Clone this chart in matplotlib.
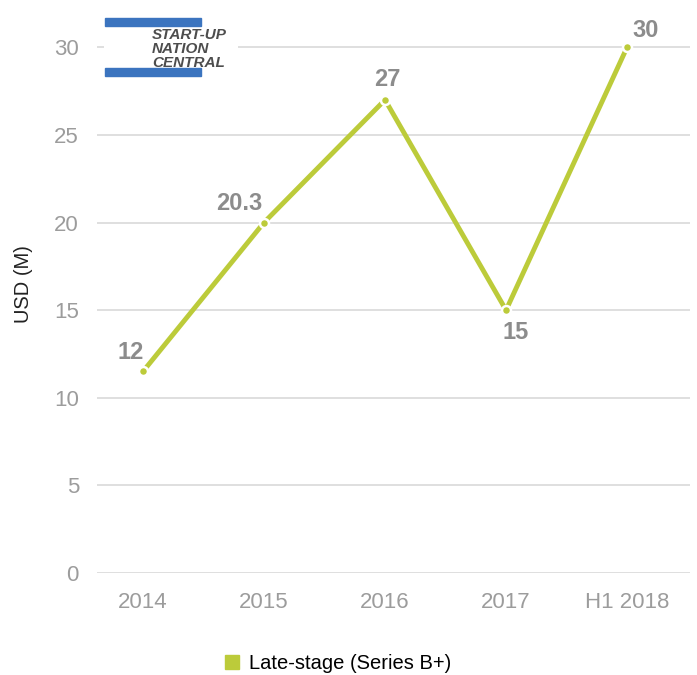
import numpy as np
import matplotlib.pyplot as plt

# Data
years = ['2014', '2015', '2016', '2017', 'H1 2018']
values = [11.5, 20, 27, 15, 30]
labels = ['12', '20.3', '27', '15', '30']
label_offsets = [(-9, 14), (-18, 14), (2, 15), (7, -16), (13, 12)]

plt.rcParams['font.family'] = ['Liberation Sans', 'DejaVu Sans']

green = '#bccb3a'
grey = '#9c9c9c'

fig = plt.figure(figsize=(6.97, 6.75), dpi=100)
ax = fig.add_axes([97 / 697, 102 / 675, 593 / 697, 545 / 675])

x = np.arange(len(years))
ax.plot(x, values, color=green, lw=3.5, solid_capstyle='round', zorder=3)
ax.scatter(x, values, s=42, color=green, edgecolor='white', linewidth=1.8, zorder=4)

for xi, v, lab, off in zip(x, values, labels, label_offsets):
    ax.annotate(lab, (xi, v), xytext=off, textcoords='offset points',
                ha='center', va='center', fontsize=17, fontweight='bold', color='#8c8c8c')

ax.set_xlim(-0.38, 4.52)
ax.set_ylim(0, 31.1)
ax.set_yticks(range(0, 31, 5))
ax.set_xticks(x)
ax.set_xticklabels(years)
ax.yaxis.grid(True, color='#d9d9d9', lw=1.2)
ax.set_axisbelow(True)
for s in ax.spines.values():
    s.set_visible(False)
ax.tick_params(length=0, labelsize=16, labelcolor=grey, pad=14)
ax.tick_params(axis='y', pad=13)
ax.set_ylabel('USD (M)', fontsize=14.5, color='#222222')
ax.yaxis.set_label_coords(-0.108, 0.53)

# legend
ax.plot([], [], 's', color=green, ms=10.5, label='Late-stage (Series B+)')
ax.legend(loc='upper center', bbox_to_anchor=(0.405, -0.115), frameon=False,
          fontsize=14.5, handlelength=0.8, handletextpad=0.45)

# logo
lg = fig.add_axes([104 / 697, 1 - 80 / 675, 134 / 697, 64 / 675])
lg.set_xlim(0, 134)
lg.set_ylim(64, 0)
lg.axis('off')
lg.add_patch(plt.Rectangle((0, 0), 134, 64, color='white', zorder=0))
lg.add_patch(plt.Rectangle((1, 2), 96, 8, color='#3b74bf'))
lg.add_patch(plt.Rectangle((1, 52), 96, 8, color='#3b74bf'))
lg.text(48, 33, 'START-UP\nNATION\nCENTRAL', fontsize=11, fontweight='bold', style='italic',
        color='#4d4d4d', va='center', ha='left', linespacing=0.98)

fig.savefig('out.png', dpi=100)
